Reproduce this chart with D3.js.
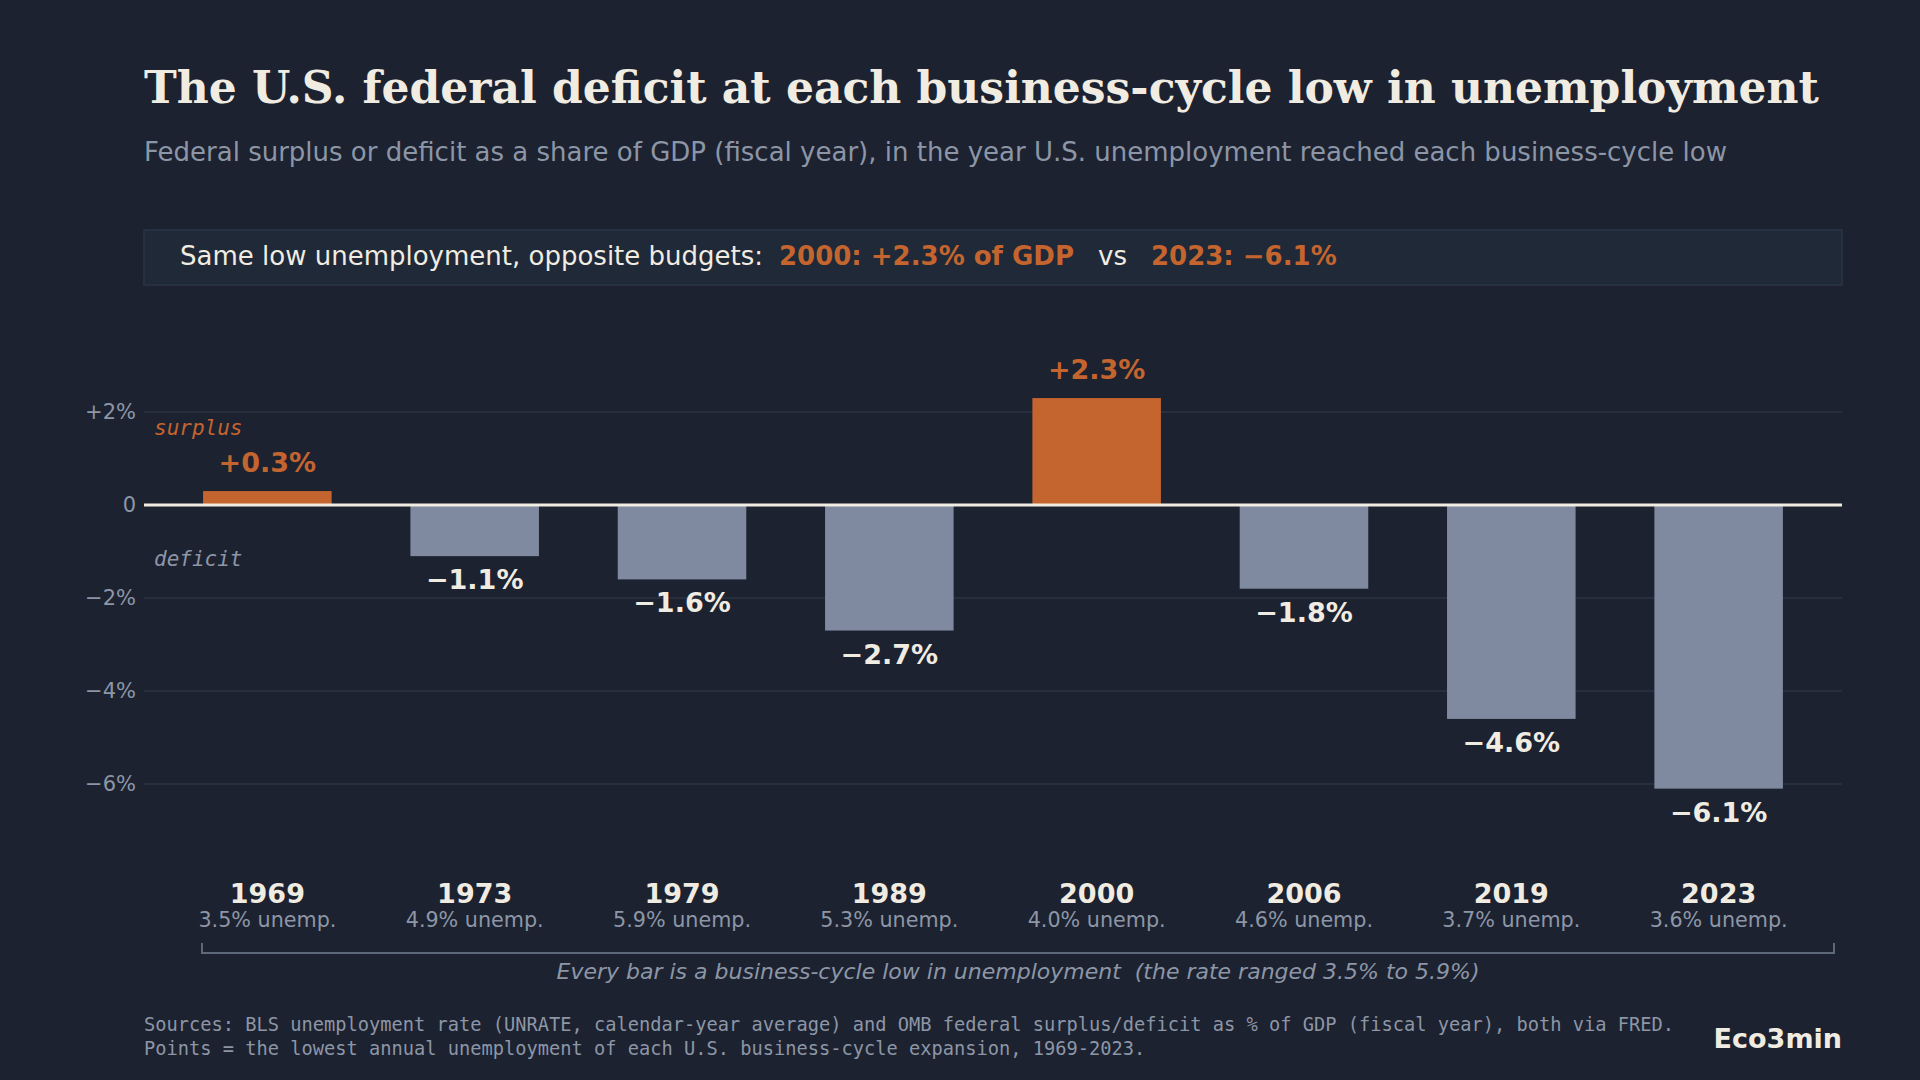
<!DOCTYPE html>
<html>
<head>
<meta charset="utf-8">
<script src="https://cdn.jsdelivr.net/npm/d3@7"></script>
<style>
  html, body { margin: 0; padding: 0; background: #1c2230; }
  svg { display: block; }
  text { white-space: pre; }
</style>
</head>
<body>
<div id="grafiek"></div>
<script>
// data
var years = ["1969", "1973", "1979", "1989", "2000", "2006", "2019", "2023"];
var balance = [0.3, -1.1, -1.6, -2.7, 2.3, -1.8, -4.6, -6.1];
var unemp = [3.5, 4.9, 5.9, 5.3, 4.0, 4.6, 3.7, 3.6];
var yTicks = [2, 0, -2, -4, -6];
var yTickLabels = ["+2%", "0", "\u22122%", "\u22124%", "\u22126%"];

var width = 1920, height = 1080;
var left = 144, right = 1842;

var bg = "#1c2230", cream = "#f1ece2", grey = "#8d96a6", orange = "#c4642f", barGrey = "#7f8aa0";

var svg = d3.select("#grafiek").append("svg")
    .attr("width", width)
    .attr("height", height);

svg.append("rect").attr("width", width).attr("height", height).attr("fill", bg);

// titel
svg.append("text")
    .attr("x", 144).attr("y", 103)
    .attr("font-family", "DejaVu Serif").attr("font-weight", "bold")
    .attr("font-size", 44).attr("fill", cream)
    .text("The U.S. federal deficit at each business-cycle low in unemployment");

svg.append("text")
    .attr("x", 144).attr("y", 161)
    .attr("font-family", "DejaVu Sans").attr("font-size", 26).attr("fill", grey)
    .text("Federal surplus or deficit as a share of GDP (fiscal year), in the year U.S. unemployment reached each business-cycle low");

// callout
svg.append("rect")
    .attr("x", left).attr("y", 230).attr("width", right - left).attr("height", 55)
    .attr("fill", "#1f2937").attr("stroke", "#2b3645").attr("stroke-width", 1.5);

var callout = [
    { t: "Same low unemployment, opposite budgets:", x: 180, c: cream, w: "normal" },
    { t: "2000: +2.3% of GDP", x: 779, c: orange, w: "bold" },
    { t: "vs", x: 1098, c: cream, w: "normal" },
    { t: "2023: \u22126.1%", x: 1151, c: orange, w: "bold" }
];
svg.selectAll(".callout").data(callout).enter().append("text")
    .attr("class", "callout")
    .attr("x", function(d) { return d.x; }).attr("y", 265)
    .attr("font-family", "DejaVu Sans").attr("font-size", 26)
    .attr("font-weight", function(d) { return d.w; })
    .attr("fill", function(d) { return d.c; })
    .text(function(d) { return d.t; });

// schalen
var x = d3.scaleBand()
    .domain(years)
    .range([left, right])
    .paddingInner(0.38)
    .paddingOuter(0.285);

var y = d3.scaleLinear()
    .domain([-6, 2])
    .range([784, 412]);

// rasterlijnen
svg.append("g").selectAll("line")
    .data(yTicks.filter(function(d) { return d !== 0; }))
    .enter().append("line")
    .attr("x1", left).attr("x2", right)
    .attr("y1", function(d) { return y(d); })
    .attr("y2", function(d) { return y(d); })
    .attr("stroke", "#2b3544").attr("stroke-width", 1.5);

// y-as
var yAxis = d3.axisLeft(y)
    .tickValues(yTicks)
    .tickSize(0)
    .tickPadding(0)
    .tickFormat(function(d, i) { return yTickLabels[i]; });

var gy = svg.append("g")
    .attr("transform", "translate(136,0)")
    .call(yAxis);
gy.select(".domain").remove();
gy.selectAll("text")
    .attr("font-family", "DejaVu Sans").attr("font-size", 21)
    .attr("fill", grey);

// surplus / deficit
svg.append("text")
    .attr("x", 154).attr("y", 435)
    .attr("font-family", "DejaVu Sans Mono").attr("font-style", "italic")
    .attr("font-size", 21).attr("fill", orange)
    .text("surplus");
svg.append("text")
    .attr("x", 154).attr("y", 566)
    .attr("font-family", "DejaVu Sans Mono").attr("font-style", "italic")
    .attr("font-size", 21).attr("fill", grey)
    .text("deficit");

// staafjes
var data = years.map(function(yr, i) {
    return { year: yr, value: balance[i], unemp: unemp[i] };
});

svg.append("g").selectAll("rect")
    .data(data)
    .enter().append("rect")
    .attr("x", function(d) { return x(d.year); })
    .attr("y", function(d) { return y(Math.max(0, d.value)); })
    .attr("width", x.bandwidth())
    .attr("height", function(d) { return Math.abs(y(d.value) - y(0)); })
    .attr("fill", function(d) { return d.value >= 0 ? orange : barGrey; });

// nullijn
svg.append("line")
    .attr("x1", left).attr("x2", right)
    .attr("y1", y(0)).attr("y2", y(0))
    .attr("stroke", cream).attr("stroke-width", 3);

// waardelabels
function fmt(v) {
    return (v >= 0 ? "+" : "\u2212") + Math.abs(v).toFixed(1) + "%";
}
svg.append("g").selectAll("text")
    .data(data)
    .enter().append("text")
    .attr("x", function(d) { return x(d.year) + x.bandwidth() / 2; })
    .attr("y", function(d) { return d.value >= 0 ? y(d.value) - 19 : y(d.value) + 33; })
    .attr("text-anchor", "middle")
    .attr("font-family", "DejaVu Sans").attr("font-weight", "bold")
    .attr("font-size", 27)
    .attr("fill", function(d) { return d.value >= 0 ? orange : cream; })
    .text(function(d) { return fmt(d.value); });

// x-labels
var gx = svg.append("g").selectAll("g")
    .data(data)
    .enter().append("g")
    .attr("transform", function(d) { return "translate(" + (x(d.year) + x.bandwidth() / 2) + ",0)"; });
gx.append("text")
    .attr("y", 903).attr("text-anchor", "middle")
    .attr("font-family", "DejaVu Sans").attr("font-weight", "bold")
    .attr("font-size", 27).attr("fill", cream)
    .text(function(d) { return d.year; });
gx.append("text")
    .attr("y", 927).attr("text-anchor", "middle")
    .attr("font-family", "DejaVu Sans").attr("font-size", 20.7).attr("fill", grey)
    .text(function(d) { return d.unemp.toFixed(1) + "% unemp."; });

// haak
var bx0 = 202, bx1 = 1834;
svg.append("path")
    .attr("d", "M" + bx0 + ",943V953H" + bx1 + "V943")
    .attr("fill", "none").attr("stroke", "#5d6878").attr("stroke-width", 2);
svg.append("text")
    .attr("x", (bx0 + bx1) / 2).attr("y", 979)
    .attr("text-anchor", "middle")
    .attr("font-family", "DejaVu Sans").attr("font-style", "italic")
    .attr("font-size", 22).attr("fill", grey)
    .text("Every bar is a business-cycle low in unemployment  (the rate ranged 3.5% to 5.9%)");

// bronnen
svg.append("text")
    .attr("x", 144).attr("y", 1031)
    .attr("font-family", "DejaVu Sans Mono").attr("font-size", 18.7).attr("fill", grey)
    .text("Sources: BLS unemployment rate (UNRATE, calendar-year average) and OMB federal surplus/deficit as % of GDP (fiscal year), both via FRED.");
svg.append("text")
    .attr("x", 144).attr("y", 1055)
    .attr("font-family", "DejaVu Sans Mono").attr("font-size", 18.7).attr("fill", grey)
    .text("Points = the lowest annual unemployment of each U.S. business-cycle expansion, 1969-2023.");

svg.append("text")
    .attr("x", right).attr("y", 1048)
    .attr("text-anchor", "end")
    .attr("font-family", "DejaVu Sans").attr("font-weight", "bold")
    .attr("font-size", 27).attr("fill", cream)
    .text("Eco3min");
</script>
</body>
</html>
